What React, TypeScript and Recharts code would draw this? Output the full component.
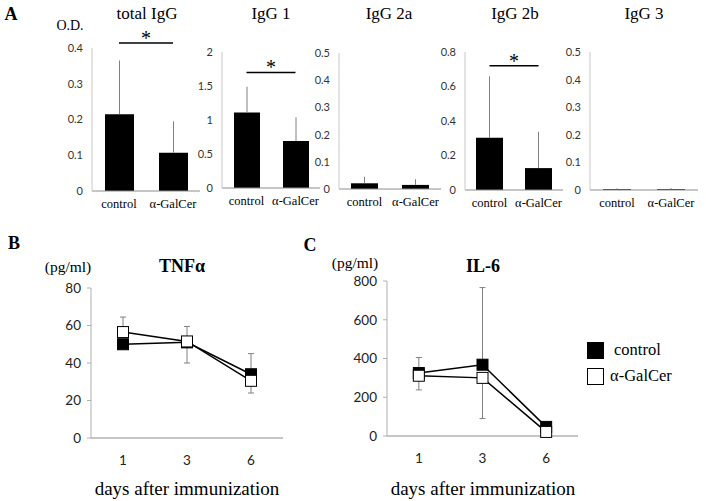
import React from 'react';
import {
  Bar,
  BarChart,
  ErrorBar,
  Legend,
  Line,
  LineChart,
  ReferenceLine,
  XAxis,
  YAxis,
} from 'recharts';

// panel A: antibody titres (O.D.), mean and plus error
const groups = ['control', 'α-GalCer'];
const totalIgG = [0.215, 0.107];
const totalIgGErr = [0.15, 0.088];
const igg1 = [1.11, 0.69];
const igg1Err = [0.38, 0.35];
const igg2a = [0.021, 0.015];
const igg2aErr = [0.024, 0.021];
const igg2b = [0.303, 0.127];
const igg2bErr = [0.356, 0.211];
const igg3 = [0.003, 0.003];
const igg3Err = [0.003, 0.004];

// panels B and C: cytokines (pg/ml) after immunization
const days = ['1', '3', '6'];
const tnfControl = [50, 51, 34];
const tnfControlLo = [0, 11, 0];
const tnfControlHi = [0, 0, 11];
const tnfGalCer = [56.5, 51.5, 30.5];
const tnfGalCerLo = [0, 0, 6.5];
const tnfGalCerHi = [8, 8, 0];

const il6Control = [325, 368, 47];
const il6ControlLo = [0, 0, 0];
const il6ControlHi = [80, 398, 0];
const il6GalCer = [311, 300, 21];
const il6GalCerLo = [73, 210, 0];
const il6GalCerHi = [0, 0, 0];

const SERIF = 'Liberation Serif';
const SANS = 'Lato';

function Txt({
  x,
  y,
  children,
  style,
}: {
  x: number;
  y: number;
  children: React.ReactNode;
  style?: React.CSSProperties;
}) {
  return (
    <div
      style={{
        position: 'absolute',
        left: x,
        top: y,
        transform: 'translate(-50%, -50%)',
        whiteSpace: 'nowrap',
        lineHeight: 1,
        ...style,
      }}
    >
      {children}
    </div>
  );
}

const Y_W = 40;
const M_TOP = 20;
const X_H = 30;

function IgPanel({
  values,
  errs,
  ticks,
  x0,
  x1,
  y0,
  y1,
  barSize,
  sig,
}: {
  values: number[];
  errs: number[];
  ticks: number[];
  x0: number;
  x1: number;
  y0: number;
  y1: number;
  barSize: number;
  sig?: number;
}) {
  const data = groups.map((g, i) => ({ g, v: values[i], e: [0, errs[i]] }));
  const w = Y_W + (x1 - x0) + 4;
  const h = M_TOP + (y1 - y0) + X_H;
  return (
    <div style={{ position: 'absolute', left: x0 - Y_W, top: y0 - M_TOP }}>
      <BarChart
        width={w}
        height={h}
        data={data}
        margin={{ top: M_TOP, right: 4, bottom: 0, left: 0 }}
        barCategoryGap={0}
      >
        <XAxis
          dataKey="g"
          height={X_H}
          tickLine={false}
          tickSize={0}
          tickMargin={8}
          axisLine={{ stroke: '#8c8c8c' }}
          tick={{ fontSize: 12.5, fontFamily: SERIF, fill: '#000' }}
        />
        <YAxis
          width={Y_W}
          domain={[0, ticks[ticks.length - 1]]}
          ticks={ticks}
          interval={0}
          tickLine={false}
          tickSize={0}
          tickMargin={9}
          axisLine={{ stroke: '#c8c8c8' }}
          tick={{ fontSize: 11, fontFamily: SANS, fill: '#333' }}
        />
        <Bar dataKey="v" fill="#000" barSize={barSize} isAnimationActive={false}>
          <ErrorBar dataKey="e" direction="y" width={0} stroke="#808080" strokeWidth={1} />
        </Bar>
        {sig !== undefined && (
          <ReferenceLine
            segment={[
              { x: groups[0], y: sig },
              { x: groups[1], y: sig },
            ]}
            ifOverflow="visible"
            stroke="#000"
            strokeWidth={1.5}
            label={{ value: '*', position: 'top', offset: -2, fontSize: 20, fill: '#000', fontFamily: SERIF }}
          />
        )}
      </BarChart>
    </div>
  );
}

function square(fill: string, size: number) {
  return (p: any) => (
    <rect
      key={`${fill}-${p.index}`}
      x={p.cx - size / 2}
      y={p.cy - size / 2}
      width={size}
      height={size}
      fill={fill}
      stroke="#000"
      strokeWidth={1}
    />
  );
}

function CytoLegend(props: any) {
  const items = props.payload || [];
  return (
    <div style={{ fontFamily: SERIF, fontSize: 16.5 }}>
      {items.map((it: any) => (
        <div key={it.value} style={{ display: 'flex', alignItems: 'center', height: 26 }}>
          <div
            style={{
              width: 17,
              height: 17,
              boxSizing: 'border-box',
              border: '1px solid #000',
              background: it.dataKey === 'control' ? '#000' : '#fff',
              marginRight: it.dataKey === 'control' ? 10 : 6,
            }}
          />
          <span>{it.value}</span>
        </div>
      ))}
    </div>
  );
}

function CytoPanel({
  control,
  controlLo,
  controlHi,
  galcer,
  galcerLo,
  galcerHi,
  ticks,
  x0,
  x1,
  y0,
  y1,
  extraRight,
  legend,
}: {
  control: number[];
  controlLo: number[];
  controlHi: number[];
  galcer: number[];
  galcerLo: number[];
  galcerHi: number[];
  ticks: number[];
  x0: number;
  x1: number;
  y0: number;
  y1: number;
  extraRight: number;
  legend?: { left: number; top: number };
}) {
  const data = days.map((d, i) => ({
    d,
    control: control[i],
    cErr: [controlLo[i], controlHi[i]],
    galcer: galcer[i],
    gErr: [galcerLo[i], galcerHi[i]],
  }));
  const pad = (x1 - x0) / 6;
  const w = Y_W + (x1 - x0) + extraRight;
  const h = M_TOP + (y1 - y0) + X_H;
  return (
    <div style={{ position: 'absolute', left: x0 - Y_W, top: y0 - M_TOP }}>
      <LineChart
        width={w}
        height={h}
        data={data}
        margin={{ top: M_TOP, right: extraRight, bottom: 0, left: 0 }}
      >
        <XAxis
          dataKey="d"
          height={X_H}
          padding={{ left: pad, right: pad }}
          tickLine={false}
          tickSize={0}
          tickMargin={17}
          axisLine={{ stroke: '#8c8c8c' }}
          tick={{ fontSize: 13.5, fontFamily: SANS, fill: '#222' }}
        />
        <YAxis
          width={Y_W}
          domain={[0, ticks[ticks.length - 1]]}
          ticks={ticks}
          interval={0}
          tickSize={4}
          tickMargin={6}
          tickLine={{ stroke: '#b0b0b0' }}
          axisLine={{ stroke: '#b0b0b0' }}
          tick={{ fontSize: 13.5, fontFamily: SANS, fill: '#222' }}
        />
        <Line
          dataKey="control"
          name="control"
          stroke="#000"
          strokeWidth={1.5}
          dot={square('#000', 11)}
          activeDot={false}
          isAnimationActive={false}
        >
          <ErrorBar dataKey="cErr" direction="y" width={3} stroke="#808080" strokeWidth={1} />
        </Line>
        <Line
          dataKey="galcer"
          name="α-GalCer"
          stroke="#000"
          strokeWidth={1.5}
          dot={square('#fff', 11)}
          activeDot={false}
          isAnimationActive={false}
        >
          <ErrorBar dataKey="gErr" direction="y" width={3} stroke="#808080" strokeWidth={1} />
        </Line>
        {legend && (
          <Legend
            layout="vertical"
            align="center"
            verticalAlign="middle"
            content={<CytoLegend />}
            wrapperStyle={{ left: legend.left, top: legend.top, width: 110 }}
          />
        )}
      </LineChart>
    </div>
  );
}

export default function App() {
  const title: React.CSSProperties = { fontFamily: SERIF, fontSize: 17, color: '#000' };
  const letter: React.CSSProperties = { fontFamily: SERIF, fontSize: 18, fontWeight: 700 };
  const unit: React.CSSProperties = { fontFamily: SERIF, fontSize: 15.5 };
  const bold: React.CSSProperties = { fontFamily: SERIF, fontSize: 18, fontWeight: 700 };
  const xlab: React.CSSProperties = { fontFamily: SERIF, fontSize: 19 };
  return (
    <div
      style={{
        position: 'absolute',
        left: 0,
        top: 0,
        width: 706,
        height: 501,
        background: '#fff',
        overflow: 'hidden',
      }}
    >
      <Txt x={11} y={14} style={letter}>A</Txt>
      <Txt x={147} y={13} style={title}>total IgG</Txt>
      <Txt x={271} y={13} style={title}>IgG 1</Txt>
      <Txt x={389} y={13} style={title}>IgG 2a</Txt>
      <Txt x={515} y={13} style={title}>IgG 2b</Txt>
      <Txt x={644} y={13} style={title}>IgG 3</Txt>
      <Txt x={70} y={26} style={{ fontFamily: SERIF, fontSize: 14 }}>O.D.</Txt>

      <IgPanel values={totalIgG} errs={totalIgGErr} ticks={[0, 0.1, 0.2, 0.3, 0.4]}
        x0={92} x1={200} y0={48} y1={191} barSize={29} sig={0.414} />
      <IgPanel values={igg1} errs={igg1Err} ticks={[0, 0.5, 1, 1.5, 2]}
        x0={222} x1={320} y0={52} y1={188} barSize={26} sig={1.7} />
      <IgPanel values={igg2a} errs={igg2aErr} ticks={[0, 0.1, 0.2, 0.3, 0.4, 0.5]}
        x0={339} x1={441} y0={53} y1={189} barSize={27} />
      <IgPanel values={igg2b} errs={igg2bErr} ticks={[0, 0.2, 0.4, 0.6, 0.8]}
        x0={465} x1={563} y0={52} y1={190} barSize={27} sig={0.72} />
      <IgPanel values={igg3} errs={igg3Err} ticks={[0, 0.1, 0.2, 0.3, 0.4, 0.5]}
        x0={590} x1={698} y0={52} y1={190} barSize={28} />

      <Txt x={14} y={243} style={letter}>B</Txt>
      <Txt x={68} y={267} style={unit}>(pg/ml)</Txt>
      <Txt x={182} y={266} style={bold}>TNFα</Txt>
      <Txt x={187} y={488} style={xlab}>days after immunization</Txt>
      <CytoPanel control={tnfControl} controlLo={tnfControlLo} controlHi={tnfControlHi}
        galcer={tnfGalCer} galcerLo={tnfGalCerLo} galcerHi={tnfGalCerHi}
        ticks={[0, 20, 40, 60, 80]} x0={91} x1={283} y0={288} y1={438} extraRight={6} />

      <Txt x={310} y={245} style={letter}>C</Txt>
      <Txt x={355} y={263} style={unit}>(pg/ml)</Txt>
      <Txt x={483} y={266} style={bold}>IL-6</Txt>
      <Txt x={483} y={488} style={xlab}>days after immunization</Txt>
      <CytoPanel control={il6Control} controlLo={il6ControlLo} controlHi={il6ControlHi}
        galcer={il6GalCer} galcerLo={il6GalCerLo} galcerHi={il6GalCerHi}
        ticks={[0, 200, 400, 600, 800]} x0={387} x1={578} y0={281} y1={436} extraRight={122}
        legend={{ left: 240, top: 76 }} />
    </div>
  );
}
